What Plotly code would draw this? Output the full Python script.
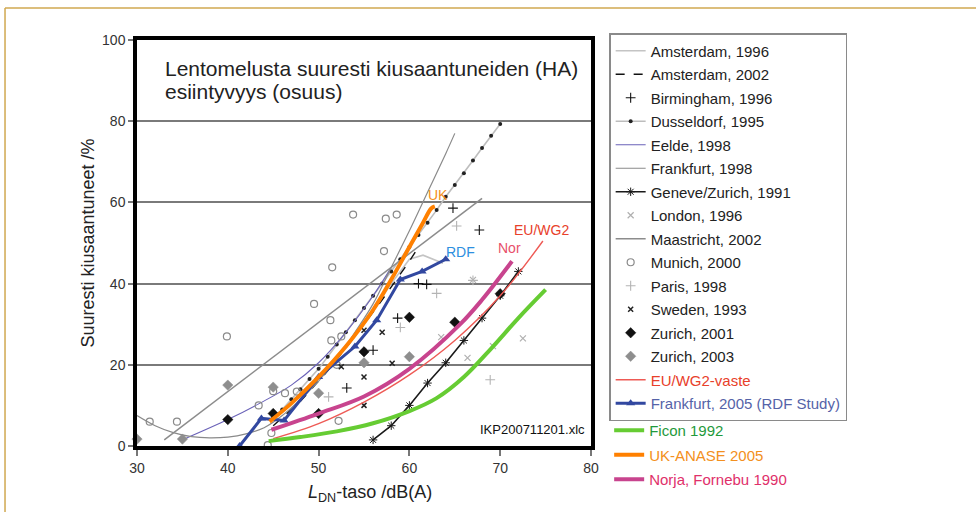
import plotly.graph_objects as go

# ---------------- data ----------------
ams96_x = [45, 50, 55, 58, 60, 61.5, 63.7]
ams96_y = [7, 17, 30, 40, 46, 47, 45]

ams02_x = [45, 48, 51, 54, 57, 60, 61]
ams02_y = [5, 11, 18.5, 27, 36, 45.5, 49]

birm_x = [64.8, 67.7, 61.0, 61.9, 58.7, 56.0, 53.1]
birm_y = [58.6, 53.2, 40, 39.8, 31.5, 23.6, 14.3]

dus_x = [45, 46, 47, 48, 49, 50, 51, 52, 53, 54, 55, 56, 57, 58, 59, 60,
         61, 62, 63, 64, 65, 66, 67, 68, 69, 70]
dus_y = [7, 9, 11.5, 14, 16.5, 19, 22, 25, 28, 31, 34, 37, 40, 43, 46, 49,
         52, 55, 58.1, 61.4, 64.3, 67.2, 70.3, 73.4, 76.4, 79.3]

eelde_x = [35, 40, 43.5, 47, 50, 53, 56, 58]
eelde_y = [1.5, 6.5, 10.5, 15, 20.5, 28, 37, 44]

fra98_x = [30, 32, 34, 36, 38, 40, 42, 44, 46, 48, 50, 52, 54, 56, 58, 60, 62, 64, 65]
fra98_y = [7.5, 5, 3.3, 2.3, 2, 2.2, 3, 4.5, 7.5, 11.5, 16, 21.5, 28, 35, 44, 53, 62.5, 72, 77]

gen_x = [56, 58, 60, 62, 64, 66, 68, 70, 72]
gen_y = [1.5, 5, 10, 15.5, 20.5, 26, 31.5, 37, 43]

lon_x = [67.0, 63.5, 66.4, 72.5, 69.2]
lon_y = [40.9, 26.8, 21.7, 26.5, 24.6]

maas_x = [33, 68]
maas_y = [1.5, 61]

mun_x = [31.4, 34.4, 39.9, 43.4, 45.0, 46.3, 47.6, 44.8, 44.4, 49.5, 51.5, 51.3,
         51.4, 52.5, 52.0, 52.2, 53.8, 57.4, 58.6, 57.2]
mun_y = [6, 6, 27, 10, 13.5, 13, 13.4, 3.2, 0.2, 35, 44, 31, 26, 27, 20, 6.2,
         57, 56, 57, 48]

par_x = [67.0, 63.0, 59.0, 68.9, 51.1, 65.2]
par_y = [40.8, 37.6, 29.2, 16.3, 12.1, 54.2]

swe_x = [55.0, 55.0, 55.0, 57.0, 58.1, 52.5]
swe_y = [10, 17, 28.5, 28, 20.4, 19.5]

zur01_x = [40, 45, 50, 55, 60, 65, 70]
zur01_y = [6.5, 8, 8, 23.2, 31.7, 30.5, 37.5]

zur03_x = [30, 35, 40, 45, 50, 55, 60]
zur03_y = [1.7, 1.7, 15, 14.5, 13, 20.5, 22]

euwg2_x = [45, 50, 55, 60, 65, 70, 74.7]
euwg2_y = [1.8, 5.5, 10.8, 17.5, 26, 37, 50.5]

rdf_x = [41.3, 43.7, 46.2, 50, 54, 56.4, 59, 61.4, 64]
rdf_y = [0, 6.8, 6.3, 17, 24.5, 31, 41, 43, 46]

ficon_x = [44.5, 48, 52, 56, 60, 63, 66, 69, 72, 75]
ficon_y = [1.2, 2.2, 3.6, 5.6, 8.6, 11.8, 17, 24, 31.5, 38.5]

uk_x = [44.6, 47, 50, 53, 56, 58, 60, 61.5, 62.4, 62.8]
uk_y = [6, 10.5, 17, 24.5, 33.5, 41, 49, 55, 58.5, 59]

nor_x = [44.8, 50, 55, 60, 65.6, 68, 71.3]
nor_y = [4, 8, 12.2, 19, 30, 36, 45.5]

x_ticks = [30, 40, 50, 60, 70, 80]
y_ticks = [0, 20, 40, 60, 80, 100]

FONT = "Liberation Sans, Arial, sans-serif"

fig = go.Figure()
_n = [0]

def _grp():
    _n[0] += 1
    return "g%d" % _n[0]

def line(x, y, name, color, width, dash="solid", **kw):
    fig.add_trace(go.Scatter(x=x, y=y, name=name, mode="lines", legendgroup=_grp(),
                             line=dict(color=color, width=width, dash=dash), **kw))

def pts(x, y, name, symbol, color, size, lw=1.2):
    fig.add_trace(go.Scatter(x=x, y=y, name=name, mode="markers", cliponaxis=False,
                             legendgroup=_grp(),
                             marker=dict(symbol=symbol, size=size, color=color,
                                         line=dict(color=color, width=lw))))

line(ams96_x, ams96_y, "Amsterdam, 1996", "#c4c4c4", 1.6)
line(ams02_x, ams02_y, "Amsterdam, 2002", "#111111", 1.4, dash="dash")
pts(birm_x, birm_y, "Birmingham, 1996", "cross-thin-open", "#111111", 7, 1.1)
fig.add_trace(go.Scatter(x=dus_x, y=dus_y, name="Dusseldorf, 1995", mode="lines+markers",
                         legendgroup=_grp(),
                         line=dict(color="#bdbdbd", width=1.6),
                         marker=dict(symbol="circle", size=4, color="#222222")))
line(eelde_x, eelde_y, "Eelde, 1998", "#6a62b8", 1.1, line_shape="spline")
line(fra98_x, fra98_y, "Frankfurt, 1998", "#8a8a8a", 1.2, line_shape="spline")
fig.add_trace(go.Scatter(x=gen_x, y=gen_y, name="Geneve/Zurich, 1991", mode="lines+markers",
                         legendgroup=_grp(),
                         line=dict(color="#1a1a1a", width=1.6),
                         marker=dict(symbol="asterisk-open", size=7,
                                     line=dict(color="#1a1a1a", width=1))))
pts(lon_x, lon_y, "London, 1996", "x-thin-open", "#b0b0b0", 6, 1.2)
line(maas_x, maas_y, "Maastricht, 2002", "#8c8c8c", 1.5)
pts(mun_x, mun_y, "Munich, 2000", "circle-open", "#8a8a8a", 7, 1.2)
pts(par_x, par_y, "Paris, 1998", "cross-thin-open", "#b4b4b4", 7, 1.1)
pts(swe_x, swe_y, "Sweden, 1993", "x-thin-open", "#222222", 5, 1.5)
pts(zur01_x, zur01_y, "Zurich, 2001", "diamond", "#111111", 8, 0.5)
pts(zur03_x, zur03_y, "Zurich, 2003", "diamond", "#8e8e8e", 8, 0.5)
line(euwg2_x, euwg2_y, "<span style='color:#e8402a'>EU/WG2-vaste</span>", "#ee5a55", 1.4,
     line_shape="spline")
fig.add_trace(go.Scatter(x=rdf_x, y=rdf_y, legendgroup=_grp(),
                         name="<span style='color:#5563a8'>Frankfurt, 2005 (RDF Study)</span>",
                         mode="lines+markers", line=dict(color="#3248a0", width=3),
                         marker=dict(symbol="triangle-up", size=8, color="#3248a0"),
                         cliponaxis=False))
line(ficon_x, ficon_y, "<span style='color:#1f9a3c'>Ficon 1992</span>", "#66cc33", 4,
     line_shape="spline", legend="legend2")
line(uk_x, uk_y, "<span style='color:#f39020'>UK-ANASE 2005</span>", "#ff8000", 4,
     line_shape="spline", legend="legend2")
line(nor_x, nor_y, "<span style='color:#e0306a'>Norja, Fornebu 1990</span>", "#c8448e", 4,
     line_shape="spline", legend="legend2")

# plot-area labels
labels = [("UK", 63.1, 61.8, "#f39020"), ("RDF", 65.6, 47.8, "#2d8fe0"),
          ("Nor", 71.0, 48.8, "#e8506a"), ("EU/WG2", 74.6, 53.3, "#e8402a")]
for t, lx, ly, c in labels:
    fig.add_annotation(x=lx, y=ly, text=t, showarrow=False,
                       font=dict(family=FONT, size=14, color=c))

fig.add_annotation(xref="paper", x=0.992, y=4, xanchor="right", yanchor="middle",
                   text="IKP200711201.xlc", showarrow=False,
                   font=dict(family=FONT, size=13, color="#111"))
for txt, py in [("Lentomelusta suuresti kiusaantuneiden (HA)", 0.931),
                ("esiintyvyys (osuus)", 0.872)]:
    fig.add_annotation(xref="paper", yref="paper", x=0.057, y=py, xanchor="left",
                       yanchor="middle", align="left", showarrow=False, text=txt,
                       font=dict(family=FONT, size=21, color="#222"))

# x axis title
fig.add_annotation(xref="paper", yref="paper", x=0.513, y=-0.116, xanchor="center",
                   yanchor="middle", showarrow=False,
                   text="<i>L</i><sub>DN</sub>-taso /dB(A)",
                   font=dict(family=FONT, size=18, color="#222"))

# page border (golden thin line at top and left)
fig.add_shape(type="line", xref="paper", yref="paper", x0=-0.2907, x1=1.85,
              y0=1.0788, y1=1.0788, line=dict(color="#d0a850", width=1.5))
fig.add_shape(type="line", xref="paper", yref="paper", x0=-0.2907, x1=-0.2907,
              y0=1.0788, y1=-0.2, line=dict(color="#d0a850", width=1.5))

fig.update_layout(
    width=976, height=512,
    margin=dict(l=137, r=385, t=40, b=66, autoexpand=False),
    paper_bgcolor="white", plot_bgcolor="white",
    font=dict(family=FONT, size=13, color="#333"),
    showlegend=True,
    legend=dict(x=1.04, y=0.9355, yref="container", xanchor="left", yanchor="top",
                maxheight=480,
                bordercolor="#8a8a8a", borderwidth=1.5, bgcolor="white",
                font=dict(family=FONT, size=15, color="#222"),
                traceorder="grouped", tracegroupgap=1),
    legend2=dict(x=1.04, y=0.1915, yref="container", xanchor="left", yanchor="top",
                 maxheight=200,
                 borderwidth=0, bgcolor="rgba(0,0,0,0)",
                 font=dict(family=FONT, size=15),
                 traceorder="grouped", tracegroupgap=2),
    xaxis=dict(range=[30, 80], tickvals=x_ticks, ticks="outside", ticklen=6,
               tickcolor="#777", tickwidth=1.5, showgrid=False, zeroline=False,
               showline=True, linecolor="black", linewidth=3.5, mirror=True,
               tickfont=dict(size=14, color="#333")),
    yaxis=dict(range=[0, 100], tickvals=y_ticks, ticks="outside", ticklen=5,
               tickcolor="#777", tickwidth=1.5, showgrid=True, gridcolor="#7a7a7a",
               gridwidth=1.5, zeroline=False,
               showline=True, linecolor="black", linewidth=3.5, mirror=True,
               tickfont=dict(size=14, color="#333"),
               title=dict(text="Suuresti kiusaantuneet /%",
                          font=dict(size=18, color="#222"), standoff=4)),
)

fig.write_html("out.html")
